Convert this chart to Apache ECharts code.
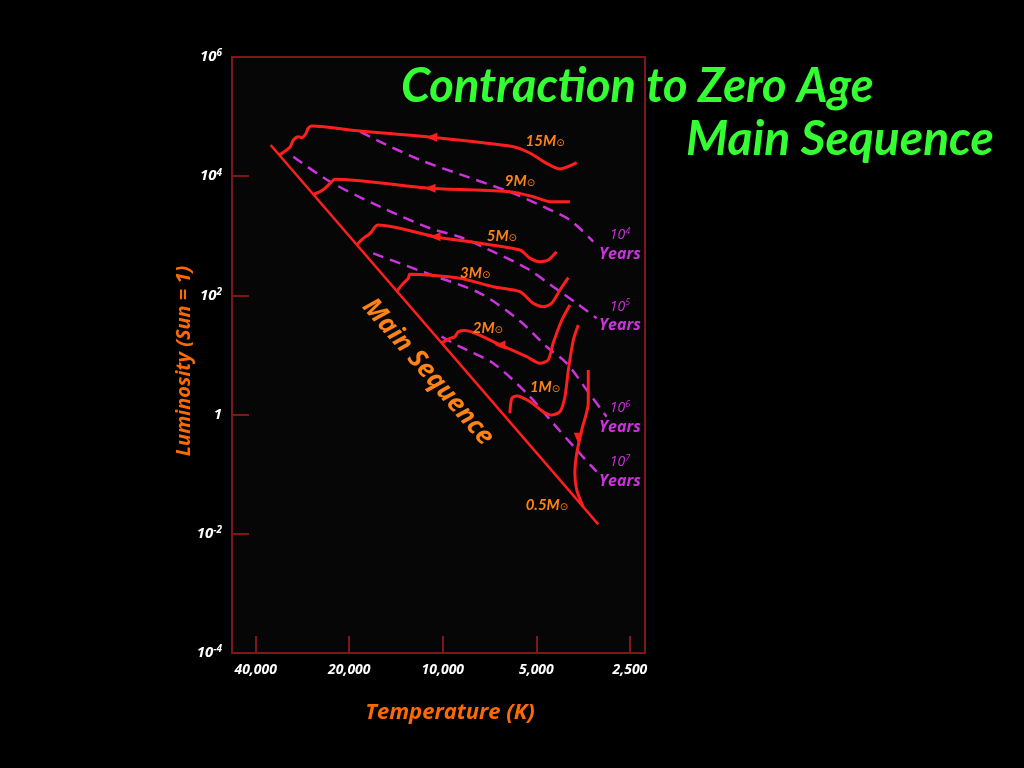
<!DOCTYPE html>
<html>
<head>
<meta charset="utf-8">
<title>Contraction to Zero Age Main Sequence</title>
<script src="https://cdn.jsdelivr.net/npm/echarts@6/dist/echarts.min.js"></script>
<style>
  html, body { margin: 0; padding: 0; background: #000; }
  #chart { width: 1024px; height: 768px; }
</style>
</head>
<body>
<div id="chart"></div>
<script>
// all points are [log10 T(K), log10 L(Lsun)]
var xTickTemps = [40000, 20000, 10000, 5000, 2500];

var mainSeq = [[4.554, 4.523], [3.4997, -1.841]];

var track15 = [[4.526, 4.354], [4.492, 4.485], [4.481, 4.607], [4.465, 4.663], [4.454, 4.646], [4.440, 4.720],
  [4.433, 4.804], [4.422, 4.842], [4.266, 4.758], [4.036, 4.653], [3.773, 4.495], [3.720, 4.389],
  [3.666, 4.216], [3.623, 4.121], [3.569, 4.227]];
var track9 = [[4.417, 3.694], [4.395, 3.740], [4.379, 3.797], [4.368, 3.852], [4.358, 3.908], [4.347, 3.948],
  [4.041, 3.797], [3.784, 3.740], [3.709, 3.656], [3.655, 3.572], [3.591, 3.572]];
var track5 = [[4.277, 2.851], [4.256, 2.958], [4.240, 3.013], [4.229, 3.069], [4.218, 3.153], [4.208, 3.181],
  [4.025, 2.985], [3.880, 2.874], [3.752, 2.762], [3.719, 2.622], [3.687, 2.566], [3.661, 2.594], [3.634, 2.733]];
var track3 = [[4.148, 2.072], [4.127, 2.203], [4.111, 2.287], [4.106, 2.354], [3.945, 2.287], [3.838, 2.146],
  [3.752, 2.062], [3.709, 1.867], [3.677, 1.810], [3.650, 1.867], [3.623, 2.091], [3.596, 2.297]];
var track2 = [[4.004, 1.200], [3.977, 1.280], [3.961, 1.307], [3.950, 1.391], [3.929, 1.411], [3.816, 1.168],
  [3.730, 0.971], [3.687, 0.861], [3.661, 0.916], [3.645, 1.196], [3.617, 1.587], [3.591, 1.839]];
var track1 = [[3.784, 0.022], [3.778, 0.273], [3.762, 0.312], [3.719, 0.216], [3.677, 0.049], [3.650, -0.007],
  [3.623, 0.049], [3.607, 0.300], [3.596, 0.748], [3.580, 1.252], [3.564, 1.503]];
var track05 = [[3.532, 0.748], [3.532, 0.190], [3.553, -0.258], [3.569, -0.649], [3.575, -0.985],
  [3.569, -1.265], [3.548, -1.550]];

var iso4 = [[4.266, 4.747], [4.213, 4.607], [4.073, 4.272], [3.923, 3.992], [3.773, 3.713], [3.677, 3.488],
  [3.591, 3.265], [3.516, 2.901]];
var iso5 = [[4.481, 4.327], [4.363, 3.908], [4.202, 3.488], [4.041, 3.126], [3.945, 2.980], [3.838, 2.733],
  [3.730, 2.455], [3.645, 2.146], [3.569, 1.867], [3.505, 1.616]];
var iso6 = [[4.224, 2.706], [4.052, 2.371], [3.880, 2.035], [3.752, 1.570], [3.666, 1.139], [3.601, 0.861],
  [3.537, 0.413], [3.473, -0.035]];
var iso7 = [[4.004, 1.307], [3.945, 1.139], [3.838, 0.861], [3.730, 0.357], [3.645, -0.146], [3.569, -0.594],
  [3.505, -0.958]];

var arrowsLeft = [[4.036, 4.653], [4.041, 3.797], [4.025, 2.985], [3.816, 1.168]];
var arrowsDown = [[3.564, -0.398]];

var massNames = ['15', '9', '5', '3', '2', '1', '0.5'];
var massLabelPos = [[3.671, 4.591], [3.752, 3.919], [3.810, 2.997], [3.896, 2.376], [3.855, 1.453],
  [3.671, 0.463], [3.665, -1.517]];

var isoExps = ['4', '5', '6', '7'];
var isoLabelPos = [[3.430, 2.846], [3.430, 1.654], [3.430, -0.057], [3.430, -0.963]];

var msLabelPos = [4.048, 0.715];

var FONT = '"Open Sans", Lato, sans-serif';
var TITLE_FONT = 'Lato, "Open Sans", sans-serif';
var RED = '#ff1e1e';
var MAGENTA = '#cc33dd';
var ORANGE = '#ff8216';
var NAME_ORANGE = '#ff6a00';
var FRAME = '#7e1818';

var chart = echarts.init(document.getElementById('chart'));

var isoSeries = [iso4, iso5, iso6, iso7].map(function (d) {
  return {
    type: 'line', data: d, smooth: 0.3, showSymbol: false, silent: true, z: 2,
    lineStyle: { color: MAGENTA, width: 2.5, type: [11, 7] }
  };
});

var trackSeries = [track15, track9, track5, track3, track2, track1, track05].map(function (d) {
  return {
    type: 'line', data: d, smooth: 0.25, showSymbol: false, silent: true, z: 4,
    lineStyle: { color: RED, width: 3 }
  };
});

var tickLogs = xTickTemps.map(function (t) { return Math.log10(t); });

// scatter defaults to 0.8 opacity, which also dims its labels
var hiddenDot = { color: 'transparent', opacity: 1 };

chart.setOption({
  backgroundColor: '#000',
  animation: false,
  grid: {
    left: 232, right: 379, top: 57, bottom: 115,
    show: true, backgroundColor: '#060606', borderColor: FRAME, borderWidth: 2
  },
  xAxis: {
    type: 'value',
    inverse: true,
    min: 3.3494,
    max: 4.6783,
    axisLine: { show: true, onZero: false, lineStyle: { color: FRAME, width: 2 } },
    axisTick: { show: true, inside: true, length: 17, customValues: tickLogs, lineStyle: { color: FRAME, width: 2 } },
    axisLabel: {
      show: true, customValues: tickLogs, margin: 10,
      color: '#fff', fontSize: 14, fontStyle: 'italic', fontWeight: 'bold', fontFamily: FONT,
      formatter: function (v) { return Math.round(Math.pow(10, v)).toLocaleString('en-US'); }
    },
    splitLine: { show: false }
  },
  yAxis: {
    type: 'value',
    min: -4,
    max: 6,
    interval: 2,
    axisLine: { show: true, onZero: false, lineStyle: { color: FRAME, width: 2 } },
    axisTick: { show: true, inside: true, length: 17, lineStyle: { color: FRAME, width: 2 } },
    axisLabel: {
      margin: 10,
      formatter: function (v) { return v === 0 ? '{b|1}' : '{b|10}{s|' + v + '}'; },
      rich: {
        b: { color: '#fff', fontSize: 15, fontStyle: 'italic', fontWeight: 'bold', fontFamily: FONT, lineHeight: 17 },
        s: { color: '#fff', fontSize: 10, fontStyle: 'italic', fontWeight: 'bold', fontFamily: FONT, verticalAlign: 'top', lineHeight: 9 }
      }
    },
    splitLine: { show: false }
  },
  graphic: [
    { type: 'text', x: 401, y: 87, style: { text: 'Contraction to Zero Age', fill: '#33ff33', fontSize: 47, fontStyle: 'italic', fontWeight: 'bold', fontFamily: TITLE_FONT, align: 'left', verticalAlign: 'middle' } },
    { type: 'text', x: 686, y: 140, style: { text: 'Main Sequence', fill: '#33ff33', fontSize: 48, fontStyle: 'italic', fontWeight: 'bold', fontFamily: TITLE_FONT, align: 'left', verticalAlign: 'middle' } },
    { type: 'text', x: 184, y: 361, rotation: Math.PI / 2, style: { text: 'Luminosity (Sun = 1)', fill: NAME_ORANGE, fontSize: 20, fontStyle: 'italic', fontWeight: 'bold', fontFamily: FONT, align: 'center', verticalAlign: 'middle' } },
    { type: 'text', x: 450, y: 713, style: { text: 'Temperature (K)', fill: NAME_ORANGE, fontSize: 22, fontStyle: 'italic', fontWeight: 'bold', fontFamily: FONT, align: 'center', verticalAlign: 'middle' } }
  ],
  series: isoSeries.concat(trackSeries).concat([
    {
      type: 'line', data: mainSeq, showSymbol: false, silent: true, z: 3,
      lineStyle: { color: RED, width: 2.5 }
    },
    {
      type: 'scatter', data: arrowsLeft, symbol: 'triangle', symbolRotate: 90, symbolSize: [9, 11], z: 5, silent: true,
      itemStyle: { color: RED, opacity: 1 }
    },
    {
      type: 'scatter', data: arrowsDown, symbol: 'triangle', symbolRotate: 180, symbolSize: [9, 11], z: 5, silent: true,
      itemStyle: { color: RED, opacity: 1 }
    },
    {
      type: 'scatter', symbolSize: 1, z: 6, silent: true, itemStyle: hiddenDot,
      data: massNames.map(function (n, i) { return { name: n, value: massLabelPos[i] }; }),
      label: {
        show: true, position: 'inside', textBorderWidth: 0,
        formatter: function (p) { return '{m|' + p.name + 'M}{o|\u2299}'; },
        rich: {
          m: { color: ORANGE, fontSize: 15, fontStyle: 'italic', fontWeight: 'bold', fontFamily: TITLE_FONT },
          o: { color: ORANGE, fontSize: 10, fontFamily: 'DejaVu Sans', verticalAlign: 'bottom', padding: [4, 0, 0, 0] }
        }
      }
    },
    {
      type: 'scatter', symbolSize: 1, z: 6, silent: true, itemStyle: hiddenDot,
      data: isoExps.map(function (e, i) { return { name: e, value: isoLabelPos[i] }; }),
      label: {
        show: true, position: 'inside', align: 'center', textBorderWidth: 0,
        formatter: function (p) { return '{e|10}{p|' + p.name + '}\n{y|Years}'; },
        rich: {
          e: { color: MAGENTA, fontSize: 14, fontStyle: 'italic', fontFamily: FONT, lineHeight: 18, align: 'center' },
          p: { color: MAGENTA, fontSize: 9, fontStyle: 'italic', fontFamily: FONT, verticalAlign: 'top', lineHeight: 10 },
          y: { color: MAGENTA, fontSize: 16, fontStyle: 'italic', fontWeight: 'bold', fontFamily: FONT, lineHeight: 19, align: 'center' }
        }
      }
    },
    {
      type: 'scatter', symbolSize: 1, z: 6, silent: true, itemStyle: hiddenDot,
      data: [{ name: 'Main Sequence', value: msLabelPos }],
      label: {
        show: true, position: 'inside', rotate: -49, textBorderWidth: 0,
        formatter: '{b}',
        color: ORANGE, fontSize: 26, fontStyle: 'italic', fontWeight: 'bold', fontFamily: FONT
      }
    }
  ])
});
</script>
</body>
</html>
